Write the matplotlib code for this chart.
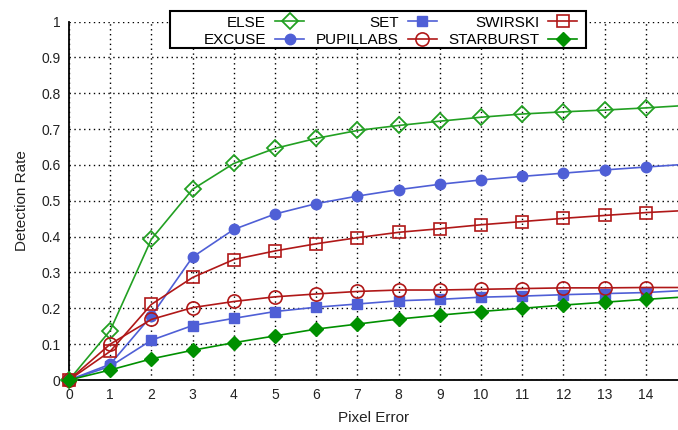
import matplotlib
matplotlib.use("Agg")
import matplotlib.pyplot as plt
from matplotlib.patches import Rectangle

plt.rcParams['font.family'] = ['Liberation Sans', 'DejaVu Sans']

# pixel error on x, detection rate on y
pixelError = [0, 1, 2, 3, 4, 5, 6, 7, 8, 9, 10, 11, 12, 13, 14, 15]
elseRate = [0, 0.138, 0.393, 0.532, 0.604, 0.646, 0.674, 0.696, 0.710, 0.722,
            0.733, 0.742, 0.748, 0.753, 0.759, 0.766]
excuseRate = [0, 0.044, 0.179, 0.343, 0.420, 0.463, 0.492, 0.513, 0.531, 0.546,
              0.558, 0.568, 0.577, 0.586, 0.594, 0.602]
setRate = [0, 0.038, 0.111, 0.152, 0.172, 0.191, 0.203, 0.212, 0.221, 0.225,
           0.231, 0.234, 0.238, 0.241, 0.244, 0.250]
pupillabsRate = [0, 0.100, 0.169, 0.202, 0.219, 0.232, 0.240, 0.247, 0.251, 0.251,
                 0.253, 0.255, 0.257, 0.257, 0.258, 0.258]
swirskiRate = [0, 0.080, 0.211, 0.286, 0.336, 0.360, 0.380, 0.397, 0.412, 0.422,
               0.433, 0.442, 0.451, 0.459, 0.467, 0.473]
starburstRate = [0, 0.028, 0.059, 0.083, 0.104, 0.123, 0.142, 0.156, 0.170, 0.181,
                 0.191, 0.200, 0.209, 0.217, 0.225, 0.232]

green = '#22a022'
darkGreen = '#009000'
blue = '#4f5fd6'
red = '#b01818'

W, H = 678, 430
fig = plt.figure(figsize=(W / 100, H / 100), dpi=100)
ax = fig.add_axes([69 / W, 1 - 380 / H, 1 - 69 / W, (380 - 21.5) / H])

ax.plot(pixelError, elseRate, color=green, lw=1.2, marker='D', ms=8.5, mfc='none',
        mew=1.3, label='ELSE', clip_on=False, zorder=3)
ax.plot(pixelError, excuseRate, color=blue, lw=1.2, marker='o', ms=7.5,
        label='EXCUSE', clip_on=False, zorder=3)
ax.plot(pixelError, setRate, color=blue, lw=1.2, marker='s', ms=7,
        label='SET', clip_on=False, zorder=3)
ax.plot(pixelError, pupillabsRate, color=red, lw=1.2, marker='o', ms=9.5, mfc='none',
        mew=1.2, label='PUPILLABS', clip_on=False, zorder=3)
ax.plot(pixelError, swirskiRate, color=red, lw=1.2, marker='s', ms=8.5, mfc='none',
        mew=1.2, label='SWIRSKI', clip_on=False, zorder=3)
ax.plot(pixelError, starburstRate, color=darkGreen, lw=1.2, marker='D', ms=6.8,
        label='STARBURST', clip_on=False, zorder=4)

ax.set_xlim(0, 14.78)
ax.set_ylim(0, 1)
ax.set_xticks(range(0, 15))
ax.set_yticks([i / 10 for i in range(11)])
ax.set_yticklabels(['0', '0.1', '0.2', '0.3', '0.4', '0.5', '0.6', '0.7', '0.8', '0.9', '1'])
ax.tick_params(labelsize=10, length=0, pad=6, colors='#222222')
for side in ['top', 'right']:
    ax.spines[side].set_visible(False)
for side in ['left', 'bottom']:
    ax.spines[side].set_linewidth(1.3)
ax.grid(True, color='black', ls=(0, (1, 2.5)), lw=1.0)
ax.set_xlabel('Pixel Error', fontsize=11, labelpad=6, color='#222222')
ax.set_ylabel('Detection Rate', fontsize=11, labelpad=9, color='#222222')

# legend entries without frame, box drawn separately (gnuplot style key)
leg = ax.legend(ncol=3, loc='upper right', bbox_to_anchor=(579 / W, 1 - 14 / H),
                bbox_transform=fig.transFigure, markerfirst=False, fontsize=11,
                frameon=False, handlelength=1.9, columnspacing=0.75,
                labelspacing=0.23, borderpad=0.1, borderaxespad=0, handletextpad=0.6)
leg.set_zorder(11)
box = Rectangle((170 / W, 1 - 48 / H), (586 - 170) / W, 37 / H, transform=fig.transFigure,
                facecolor='white', edgecolor='black', lw=1.5, zorder=10, clip_on=False)
ax.add_patch(box)

fig.savefig('out.png', dpi=100)
